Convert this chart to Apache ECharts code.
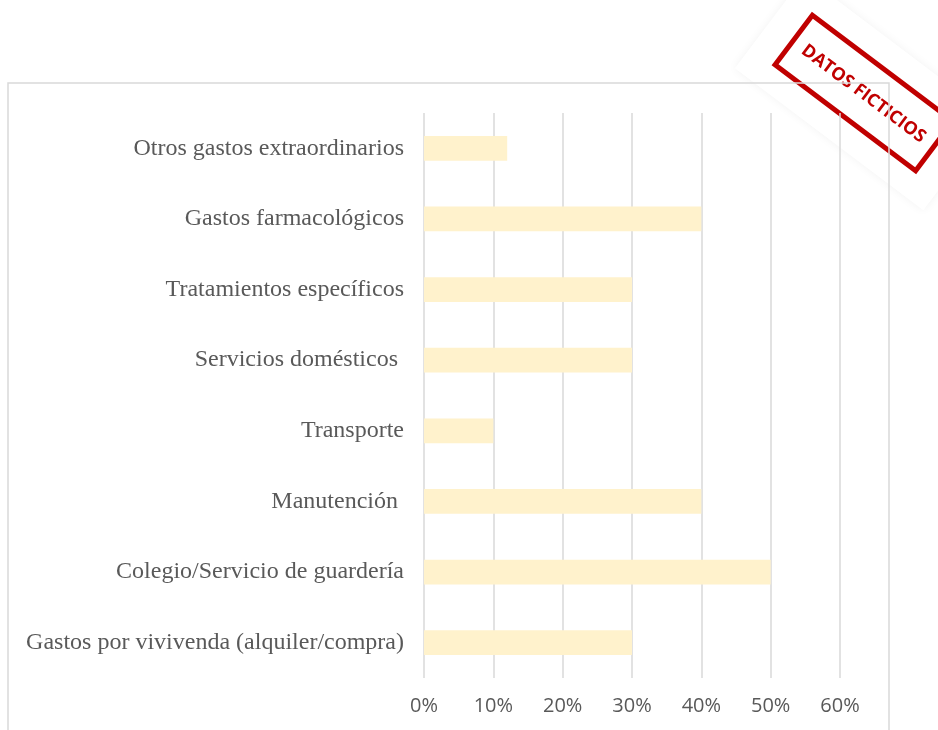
<!DOCTYPE html>
<html>
<head>
<meta charset="utf-8">
<script src="https://cdn.jsdelivr.net/npm/echarts@6/dist/echarts.min.js"></script>
<style>html,body{margin:0;padding:0;background:#fff;}#c{width:938px;height:730px;}</style>
</head>
<body>
<div id="c"></div>
<script>
var categories = [
  "Gastos por vivivenda (alquiler/compra)",
  "Colegio/Servicio de guardería",
  "Manutención ",
  "Transporte",
  "Servicios domésticos ",
  "Tratamientos específicos",
  "Gastos farmacológicos",
  "Otros gastos extraordinarios"
];
var values = [0.30, 0.50, 0.40, 0.10, 0.30, 0.30, 0.40, 0.12];
var stampText = "DATOS FICTICIOS";

var chart = echarts.init(document.getElementById('c'), null, {renderer: 'canvas'});
chart.setOption({
  animation: false,
  backgroundColor: '#ffffff',
  grid: {left: 424, right: 98, top: 113, bottom: 52, containLabel: false},
  xAxis: {
    type: 'value', min: 0, max: 0.6, interval: 0.1,
    axisLine: {show: false}, axisTick: {show: false},
    splitLine: {show: true, lineStyle: {color: '#d9d9d9', width: 1.5}},
    axisLabel: {
      margin: 18, color: '#595959', fontFamily: 'Open Sans', fontSize: 20,
      formatter: function (v) { return Math.round(v * 100) + '%'; }
    }
  },
  yAxis: {
    type: 'category', data: categories,
    axisLine: {show: false}, axisTick: {show: false},
    axisLabel: {margin: 20, color: '#595959', fontFamily: 'Liberation Serif', fontSize: 24}
  },
  series: [{
    type: 'bar', data: values, barWidth: '35%',
    itemStyle: {color: '#FFF2CC'}, silent: true
  }],
  graphic: [
    {type: 'rect', z: 1, shape: {x: 8, y: 83, width: 881, height: 700},
     style: {fill: 'none', stroke: '#d9d9d9', lineWidth: 1.5}, silent: true},
    {type: 'group', x: 864, y: 93, rotation: -37 * Math.PI / 180, z: 100, children: [
      {type: 'rect', shape: {x: -118, y: -58, width: 236, height: 116},
       style: {fill: '#ffffff', shadowBlur: 10, shadowColor: 'rgba(0,0,0,0.05)'}},
      {type: 'rect', shape: {x: -88, y: -31, width: 176, height: 62},
       style: {fill: 'none', stroke: '#C00000', lineWidth: 5}},
      {type: 'text', x: 0, y: 1,
       style: {text: stampText, fill: '#C00000', font: 'bold 18px "Open Sans"', align: 'center', verticalAlign: 'middle'}}
    ]}
  ]
});
</script>
</body>
</html>
